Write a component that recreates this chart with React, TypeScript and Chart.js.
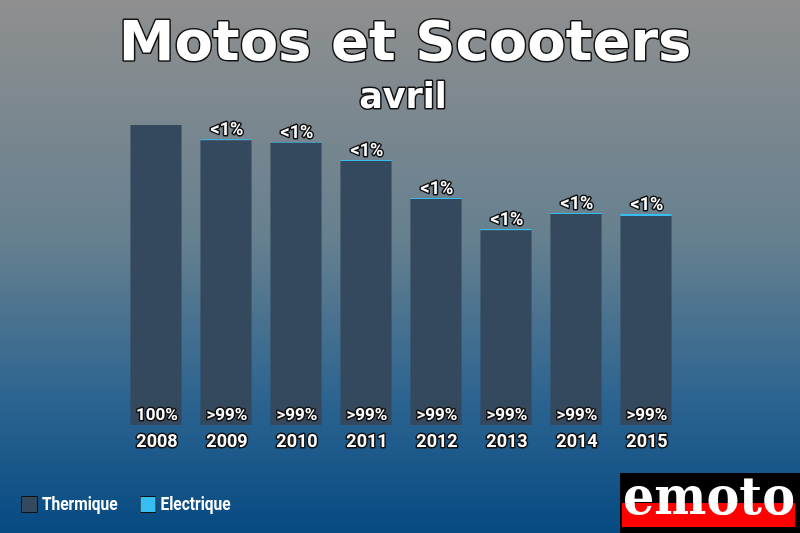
import React, { useEffect, useRef } from "react";
import { Chart, registerables } from "chart.js";

Chart.register(...registerables);

const years = ["2008", "2009", "2010", "2011", "2012", "2013", "2014", "2015"];
const thermique = [30000, 28470, 28220, 26390, 22610, 19480, 21090, 20900];
const electrique = [0, 100, 80, 110, 90, 120, 110, 200];
const bottomLabels = ["100%", ">99%", ">99%", ">99%", ">99%", ">99%", ">99%", ">99%"];
const topLabels = ["", "<1%", "<1%", "<1%", "<1%", "<1%", "<1%", "<1%"];
const seriesNames = ["Thermique", "Electrique"];
const seriesColors = ["#34485e", "#38bdf2"];
const titleText = "Motos et Scooters";
const subtitleText = "avril";
const logoText = "emoto";

function outlined(ctx: CanvasRenderingContext2D, text: string, x: number, y: number, lw: number) {
  ctx.lineJoin = "round";
  ctx.lineWidth = lw;
  ctx.strokeStyle = "#111";
  ctx.strokeText(text, x, y);
  ctx.fillStyle = "#fff";
  ctx.fillText(text, x, y);
}

const bgPlugin = {
  id: "bg",
  beforeDraw(chart: any) {
    const { ctx, width, height } = chart;
    ctx.save();
    const g = ctx.createLinearGradient(0, 0, 0, height);
    g.addColorStop(0, "#8f8f8f");
    g.addColorStop(0.45, "#66808f");
    g.addColorStop(0.75, "#2c6490");
    g.addColorStop(1, "#064a82");
    ctx.fillStyle = g;
    ctx.fillRect(0, 0, width, height);
    ctx.restore();
  },
};

const decoPlugin = {
  id: "deco",
  afterDraw(chart: any) {
    const { ctx, chartArea } = chart;
    const xs = chart.scales.x;
    const ys = chart.scales.y;
    ctx.save();
    // title
    ctx.textAlign = "center";
    ctx.textBaseline = "alphabetic";
    ctx.font = "bold 56px 'DejaVu Sans'";
    outlined(ctx, titleText, 405, 60, 3);
    ctx.font = "bold 35px 'DejaVu Sans'";
    outlined(ctx, subtitleText, 403, 108, 3);

    // labels
    years.forEach((yr, i) => {
      const x = xs.getPixelForValue(i);
      ctx.textAlign = "center";
      ctx.textBaseline = "middle";
      ctx.font = "bold 18px Roboto";
      outlined(ctx, yr, x + 1, chartArea.bottom + 17, 3);
      ctx.font = "bold 17px Roboto";
      outlined(ctx, bottomLabels[i], x + 1, chartArea.bottom - 9, 3);
      if (topLabels[i]) {
        const top = ys.getPixelForValue(thermique[i] + electrique[i]);
        ctx.textBaseline = "alphabetic";
        ctx.font = "bold 18px Roboto";
        outlined(ctx, topLabels[i], x + 1, top - 4, 3);
      }
    });

    // legend
    const items = chart.data.datasets;
    let lx = 21;
    ctx.textBaseline = "middle";
    ctx.font = "bold 18px Roboto";
    items.forEach((ds: any) => {
      ctx.fillStyle = ds.backgroundColor;
      ctx.fillRect(lx, 496, 17, 17);
      ctx.strokeStyle = "#111";
      ctx.lineWidth = 1;
      ctx.strokeRect(lx + 0.5, 496.5, 16, 16);
      ctx.fillStyle = "#fff";
      ctx.save();
      ctx.translate(lx + 21, 505);
      ctx.scale(0.86, 1);
      ctx.textAlign = "left";
      ctx.fillText(ds.label, 0, 0);
      ctx.restore();
      lx += 21 + ctx.measureText(ds.label).width * 0.86 + 22;
    });

    // logo
    ctx.fillStyle = "#000";
    ctx.fillRect(620, 473, 180, 60);
    ctx.fillStyle = "#ff0000";
    ctx.fillRect(622, 503, 173, 24);
    ctx.font = "bold 52px 'DejaVu Serif'";
    const w = ctx.measureText(logoText).width;
    ctx.save();
    ctx.translate(623, 514);
    ctx.scale(172 / w, 1);
    ctx.textAlign = "left";
    ctx.textBaseline = "alphabetic";
    ctx.fillStyle = "#fff";
    ctx.fillText(logoText, 0, 0);
    ctx.restore();
    ctx.restore();
  },
};

export default function App() {
  const ref = useRef<HTMLCanvasElement>(null);
  useEffect(() => {
    if (!ref.current) return;
    const chart = new Chart(ref.current, {
      type: "bar",
      data: {
        labels: years,
        datasets: [
          { label: seriesNames[0], data: thermique, backgroundColor: seriesColors[0], borderWidth: 0, categoryPercentage: 1, barPercentage: 0.73 },
          { label: seriesNames[1], data: electrique, backgroundColor: seriesColors[1], borderWidth: 0, categoryPercentage: 1, barPercentage: 0.73 },
        ],
      },
      options: {
        animation: false,
        responsive: false,
        layout: { padding: { left: 121, right: 119, top: 125, bottom: 108 } },
        plugins: { legend: { display: false }, title: { display: false }, tooltip: { enabled: false } },
        scales: {
          x: { display: false, stacked: true },
          y: { display: false, stacked: true, min: 0, max: 30000 },
        },
      },
      plugins: [bgPlugin, decoPlugin],
    });
    return () => chart.destroy();
  }, []);
  return (
    <div style={{ position: "fixed", left: 0, top: 0, width: 800, height: 533 }}>
      <canvas ref={ref} width={800} height={533} />
    </div>
  );
}
